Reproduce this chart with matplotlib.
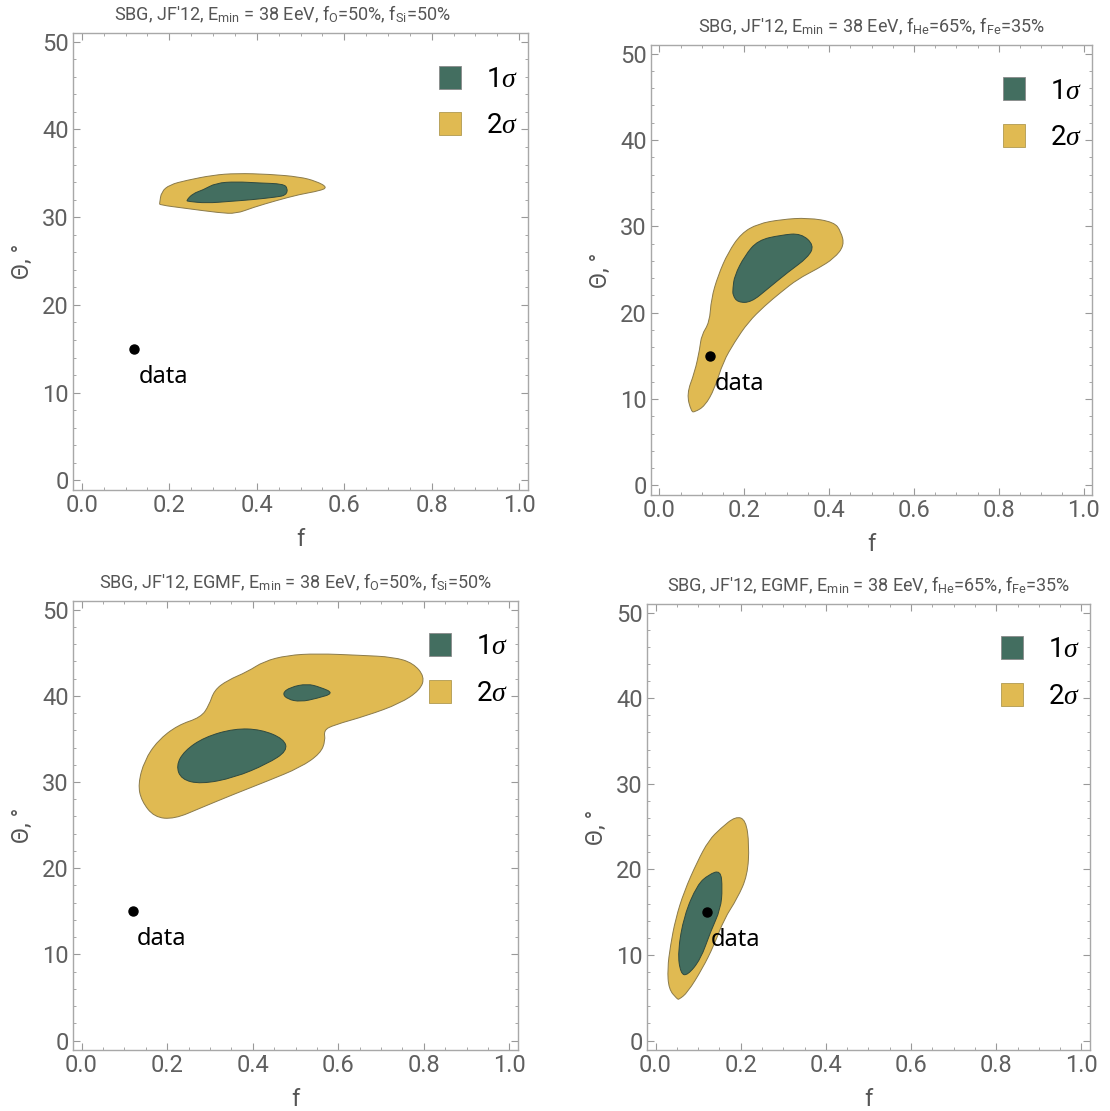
import matplotlib
matplotlib.use("Agg")
import matplotlib.pyplot as plt
from matplotlib.patches import Patch, PathPatch
from matplotlib.path import Path
from matplotlib.ticker import MultipleLocator

plt.rcParams['font.family'] = ['Roboto', 'DejaVu Sans']
plt.rcParams['mathtext.fontset'] = 'custom'
plt.rcParams['mathtext.rm'] = 'Roboto'
plt.rcParams['mathtext.it'] = 'Liberation Serif:italic'

# data point (measured)
data_f = 0.12
data_theta = 15

titles = [
    r"SBG, JF'12, E$_{\rm min}$ = 38 EeV, f$_{\rm O}$=50%, f$_{\rm Si}$=50%",
    r"SBG, JF'12, E$_{\rm min}$ = 38 EeV, f$_{\rm He}$=65%, f$_{\rm Fe}$=35%",
    r"SBG, JF'12, EGMF, E$_{\rm min}$ = 38 EeV, f$_{\rm O}$=50%, f$_{\rm Si}$=50%",
    r"SBG, JF'12, EGMF, E$_{\rm min}$ = 38 EeV, f$_{\rm He}$=65%, f$_{\rm Fe}$=35%",
]

# contour outlines (f, theta)
p1_f2 = [0.178, 0.182, 0.201, 0.239, 0.300, 0.353, 0.429, 0.498, 0.536, 0.562, 0.543, 0.498,
         0.445, 0.391, 0.353, 0.315, 0.239, 0.178]
p1_t2 = [31.6, 32.9, 33.7, 34.2, 34.8, 35.0, 34.9, 34.6, 34.1, 33.4, 33.0, 32.6,
         31.9, 31.1, 30.4, 30.5, 31.0, 31.4]
p1_f1 = [0.239, 0.254, 0.277, 0.307, 0.353, 0.406, 0.460, 0.471, 0.467, 0.445, 0.391, 0.338, 0.285, 0.243]
p1_t1 = [31.9, 32.7, 33.1, 33.9, 34.05, 33.9, 33.8, 33.3, 32.5, 32.3, 32.0, 31.8, 31.6, 31.8]

p2_f2 = [0.075, 0.064, 0.083, 0.095, 0.099, 0.118, 0.122, 0.138, 0.162, 0.193, 0.232, 0.287, 0.350,
         0.412, 0.428, 0.436, 0.412, 0.373, 0.326, 0.287, 0.248, 0.209, 0.177, 0.150, 0.130, 0.107, 0.083]
p2_t2 = [8.55, 10.6, 13.1, 15.8, 17.4, 18.9, 21.6, 24.3, 27.0, 29.2, 30.3, 30.8, 31.0,
         30.5, 29.4, 27.8, 26.3, 25.1, 23.9, 22.4, 20.8, 18.9, 16.6, 14.3, 11.2, 9.2, 8.5]
p2_f1 = [0.173, 0.177, 0.201, 0.232, 0.287, 0.334, 0.365, 0.350, 0.303, 0.256, 0.216, 0.185, 0.173]
p2_t1 = [22.8, 24.3, 26.6, 28.4, 29.0, 29.2, 27.8, 26.4, 24.7, 22.8, 21.2, 21.2, 22.0]

p3_f2 = [0.132, 0.147, 0.178, 0.225, 0.279, 0.298, 0.310, 0.341, 0.388, 0.426, 0.481, 0.550, 0.651,
         0.729, 0.775, 0.802, 0.791, 0.744, 0.667, 0.589, 0.566, 0.570, 0.558, 0.512, 0.434, 0.357,
         0.279, 0.217, 0.170, 0.140]
p3_t2 = [29.75, 32.5, 34.8, 36.6, 37.5, 38.9, 40.65, 41.8, 42.8, 44.0, 44.7, 44.9, 44.7,
         44.5, 43.8, 42.2, 40.65, 39.1, 37.7, 36.6, 36.0, 34.8, 33.3, 31.7, 30.1, 28.6,
         27.0, 25.7, 25.9, 27.8]
p3_f1a = [0.221, 0.240, 0.287, 0.357, 0.419, 0.473, 0.481, 0.434, 0.357, 0.279, 0.233]
p3_t1a = [31.9, 33.6, 35.2, 36.2, 36.1, 35.0, 33.6, 32.1, 30.5, 29.75, 30.3]
p3_f1b = [0.469, 0.488, 0.527, 0.558, 0.590, 0.550, 0.512, 0.481]
p3_t1b = [40.3, 41.0, 41.4, 41.0, 40.3, 39.7, 39.3, 39.6]

p4_f2 = [0.051, 0.031, 0.028, 0.035, 0.047, 0.067, 0.098, 0.125, 0.153, 0.188, 0.212, 0.220, 0.216,
         0.192, 0.161, 0.137, 0.110, 0.075, 0.055]
p4_t2 = [4.85, 6.0, 8.4, 11.1, 14.2, 17.4, 20.9, 23.4, 24.8, 26.2, 25.8, 22.85, 19.3,
         16.6, 14.2, 11.1, 8.4, 5.6, 4.8]
p4_f1 = [0.059, 0.052, 0.067, 0.098, 0.125, 0.153, 0.157, 0.153, 0.129, 0.106, 0.075]
p4_t1 = [7.8, 10.3, 14.6, 18.2, 19.4, 19.9, 17.8, 15.4, 12.7, 9.5, 7.6]

regions = [
    ([(p1_f2, p1_t2)], [(p1_f1, p1_t1)]),
    ([(p2_f2, p2_t2)], [(p2_f1, p2_t1)]),
    ([(p3_f2, p3_t2)], [(p3_f1a, p3_t1a), (p3_f1b, p3_t1b)]),
    ([(p4_f2, p4_t2)], [(p4_f1, p4_t1)]),
]

# axes boxes in pixels: left, top, right, bottom
boxes = [(73, 33, 528, 490), (651, 45, 1092, 495), (73, 601, 518, 1050), (647, 604, 1090, 1050)]
title_x = [0.46, 0.5, 0.5, 0.5]

gold = '#E0BA52'
green = '#436E60'
W, H = 1110, 1111


def smooth_patch(fx, ty, **kw):
    # closed outline drawn as quadratic Bezier pieces (vertices act as control points)
    pts = list(zip(fx, ty))
    n = len(pts)
    mids = [((pts[k][0] + pts[(k + 1) % n][0]) / 2, (pts[k][1] + pts[(k + 1) % n][1]) / 2)
            for k in range(n)]
    verts = [mids[-1]]
    codes = [Path.MOVETO]
    for k in range(n):
        verts += [pts[k], mids[k]]
        codes += [Path.CURVE3, Path.CURVE3]
    verts.append(mids[-1])
    codes.append(Path.CLOSEPOLY)
    return PathPatch(Path(verts, codes), **kw)


fig = plt.figure(figsize=(W / 100, H / 100), dpi=100)

for i in range(4):
    l, t, r, b = boxes[i]
    ax = fig.add_axes([l / W, 1 - b / H, (r - l) / W, (b - t) / H])
    gold_polys, green_polys = regions[i]
    for fx, ty in gold_polys:
        ax.add_patch(smooth_patch(fx, ty, fc=gold, ec='#8a7a4a', lw=0.7, zorder=2))
    for fx, ty in green_polys:
        ax.add_patch(smooth_patch(fx, ty, fc=green, ec='#2f4a40', lw=0.7, zorder=3))
    ax.plot([data_f], [data_theta], 'o', color='black', ms=6.5, zorder=5)
    ax.annotate('data', (data_f, data_theta), xytext=(3, -20), textcoords='offset points',
                ha='left', va='center', fontsize=17, color='black', family='Noto Sans', zorder=6)

    ax.set_xlim(-0.02, 1.02)
    ax.set_ylim(-1.1, 51)
    ax.xaxis.set_major_locator(MultipleLocator(0.2))
    ax.xaxis.set_minor_locator(MultipleLocator(0.05))
    ax.yaxis.set_major_locator(MultipleLocator(10))
    ax.yaxis.set_minor_locator(MultipleLocator(2))
    ax.xaxis.set_major_formatter(plt.FormatStrFormatter('%.1f'))
    ax.tick_params(which='both', direction='in', top=True, right=True, color='#999999',
                   labelsize=17, labelcolor='#5f5f5f', pad=3)
    ax.tick_params(which='major', length=5, width=0.8)
    ax.tick_params(which='minor', length=2.5, width=0.6)
    for s in ax.spines.values():
        s.set_color('#a8a8a8')
        s.set_linewidth(1.0)

    ax.set_xlabel('f', fontsize=17, color='#555555', labelpad=8)
    ax.set_ylabel('Θ, °', fontsize=17, color='#555555', labelpad=6)
    ax.set_title(titles[i], fontsize=13, color='#555555', pad=9, x=title_x[i])

    handles = [Patch(fc=green, ec='#8a8a8a', lw=0.6, label=r'1$\sigma$'),
               Patch(fc=gold, ec='#b09a50', lw=0.6, label=r'2$\sigma$')]
    ax.legend(handles=handles, loc='upper right', frameon=False, fontsize=20,
              handlelength=0.8, handleheight=0.9, handletextpad=0.9, labelspacing=0.7,
              borderaxespad=0.2, bbox_to_anchor=(1.015, 0.965))

fig.savefig('out.png', dpi=100)
